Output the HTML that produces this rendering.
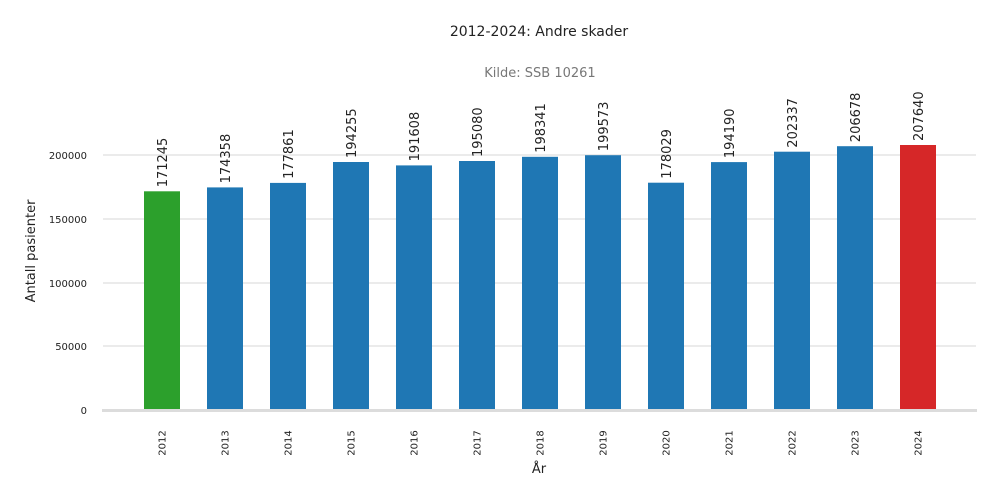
<!DOCTYPE html>
<html><head><meta charset="utf-8"><style>body{margin:0;background:#fff}svg{display:block;font-family:"DejaVu Sans","Liberation Sans",sans-serif}</style></head><body>
<svg width="1000" height="500" viewBox="0 0 1000 500">
<text x="539" y="36" font-size="14" fill="#222" text-anchor="middle">2012-2024: Andre skader</text>
<text x="540" y="77" font-size="13" fill="#777" text-anchor="middle">Kilde: SSB 10261</text>
<g stroke="#ebebeb" stroke-width="2">
<line x1="103" x2="976" y1="155" y2="155"/><line x1="103" x2="976" y1="219" y2="219"/><line x1="103" x2="976" y1="283" y2="283"/><line x1="103" x2="976" y1="346" y2="346"/>
</g>
<g font-size="10" fill="#222" text-anchor="end">
<text x="87" y="159">200000</text><text x="87" y="223">150000</text><text x="87" y="287">100000</text><text x="87" y="350">50000</text><text x="87" y="414">0</text>
</g>
<text transform="translate(35,251) rotate(-90)" font-size="13" fill="#222" text-anchor="middle">Antall pasienter</text>
<text x="539" y="473" font-size="13" fill="#222" text-anchor="middle">År</text>
<g>
<rect x="144" y="191.3" width="36" height="218.2" fill="#2ca02c"/>
<rect x="207" y="187.4" width="36" height="222.1" fill="#1f77b4"/>
<rect x="270" y="182.9" width="36" height="226.6" fill="#1f77b4"/>
<rect x="333" y="162.0" width="36" height="247.5" fill="#1f77b4"/>
<rect x="396" y="165.4" width="36" height="244.1" fill="#1f77b4"/>
<rect x="459" y="161.0" width="36" height="248.5" fill="#1f77b4"/>
<rect x="522" y="156.8" width="36" height="252.7" fill="#1f77b4"/>
<rect x="585" y="155.2" width="36" height="254.3" fill="#1f77b4"/>
<rect x="648" y="182.7" width="36" height="226.8" fill="#1f77b4"/>
<rect x="711" y="162.1" width="36" height="247.4" fill="#1f77b4"/>
<rect x="774" y="151.7" width="36" height="257.8" fill="#1f77b4"/>
<rect x="837" y="146.2" width="36" height="263.3" fill="#1f77b4"/>
<rect x="900" y="145.0" width="36" height="264.5" fill="#d62728"/>
</g>
<g font-size="13" fill="#222">
<text transform="translate(167,187.3) rotate(-90)">171245</text>
<text transform="translate(230,183.4) rotate(-90)">174358</text>
<text transform="translate(293,178.9) rotate(-90)">177861</text>
<text transform="translate(356,158.0) rotate(-90)">194255</text>
<text transform="translate(419,161.4) rotate(-90)">191608</text>
<text transform="translate(482,157.0) rotate(-90)">195080</text>
<text transform="translate(545,152.8) rotate(-90)">198341</text>
<text transform="translate(608,151.2) rotate(-90)">199573</text>
<text transform="translate(671,178.7) rotate(-90)">178029</text>
<text transform="translate(734,158.1) rotate(-90)">194190</text>
<text transform="translate(797,147.7) rotate(-90)">202337</text>
<text transform="translate(860,142.2) rotate(-90)">206678</text>
<text transform="translate(923,141.0) rotate(-90)">207640</text>
</g>
<g font-size="10" fill="#222" text-anchor="middle">
<text transform="translate(165.5,443) rotate(-90)">2012</text>
<text transform="translate(228.5,443) rotate(-90)">2013</text>
<text transform="translate(291.5,443) rotate(-90)">2014</text>
<text transform="translate(354.5,443) rotate(-90)">2015</text>
<text transform="translate(417.5,443) rotate(-90)">2016</text>
<text transform="translate(480.5,443) rotate(-90)">2017</text>
<text transform="translate(543.5,443) rotate(-90)">2018</text>
<text transform="translate(606.5,443) rotate(-90)">2019</text>
<text transform="translate(669.5,443) rotate(-90)">2020</text>
<text transform="translate(732.5,443) rotate(-90)">2021</text>
<text transform="translate(795.5,443) rotate(-90)">2022</text>
<text transform="translate(858.5,443) rotate(-90)">2023</text>
<text transform="translate(921.5,443) rotate(-90)">2024</text>
</g>
<line x1="102" x2="977" y1="410.5" y2="410.5" stroke="#dcdcdc" stroke-width="3"/>
</svg>
</body></html>
